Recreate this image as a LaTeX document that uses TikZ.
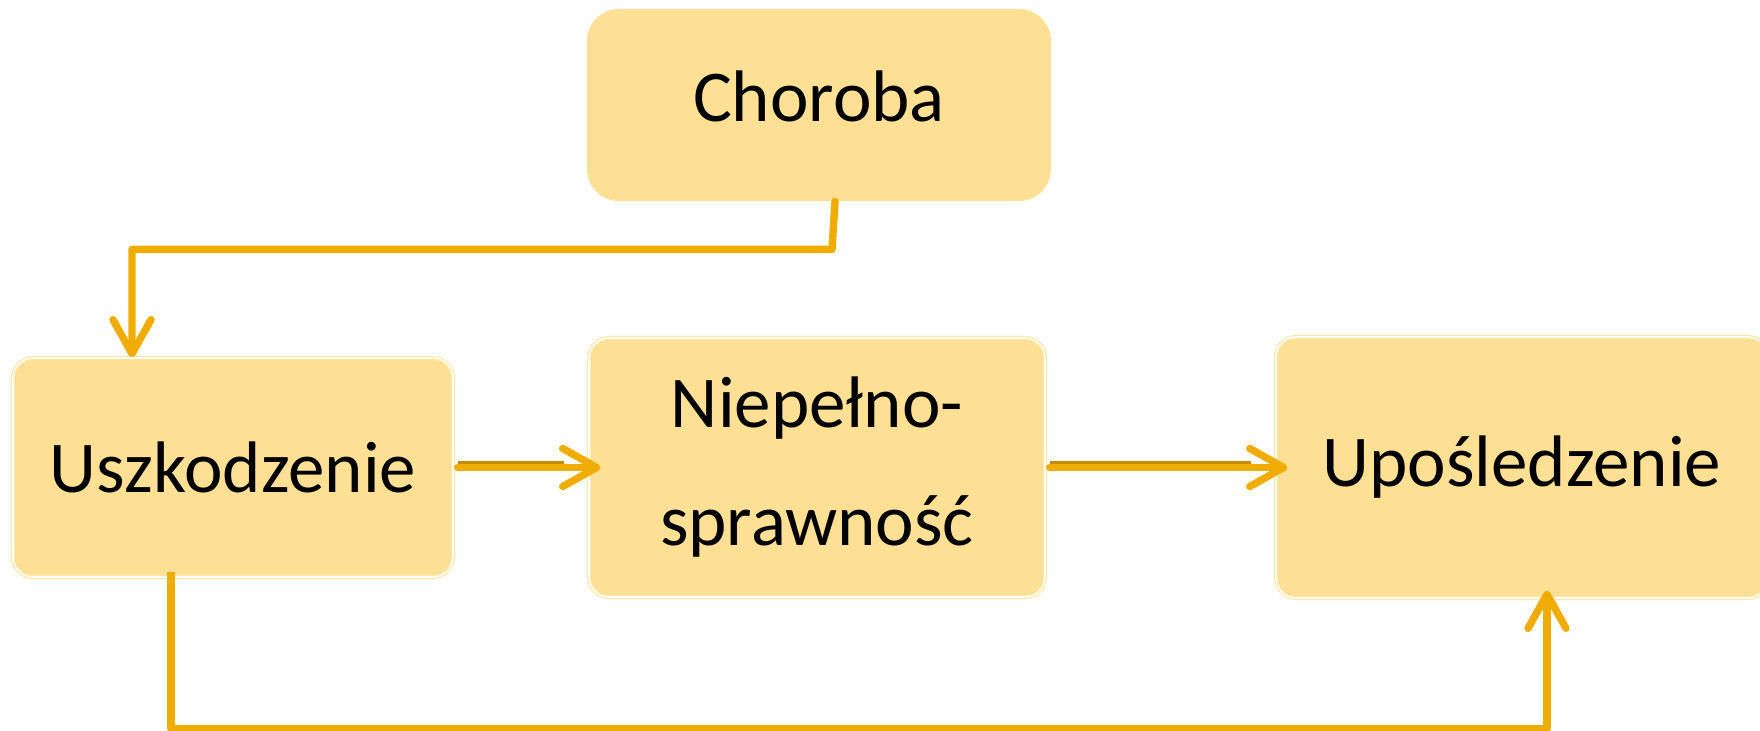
\documentclass[tikz,border=0pt]{standalone}
\usepackage{fontspec}
\setmainfont{Carlito}
\usepackage{tikz}
\usetikzlibrary{arrows.meta}

\definecolor{boxfill}{RGB}{253,224,148}
\definecolor{boxedge}{RGB}{254,230,165}
\definecolor{linkgold}{RGB}{240,173,0}
\definecolor{linkdark}{RGB}{196,140,0}

\begin{document}
\begin{tikzpicture}[x=0.5pt,y=-0.5pt,
    box/.style={fill=boxfill,rounded corners=10pt,inner sep=0pt,align=center,
      font=\fontsize{36.5}{59}\selectfont,
      draw=boxedge,line width=0.6pt,double=white,double distance=0.8pt},
    link/.style={draw=linkgold,line width=3.7pt,line cap=round,line join=round,
      -{Straight Barb[length=17pt,width=19pt,round]}},
    shade/.style={draw=linkdark,line width=2.4pt}]
  \useasboundingbox (0,0) rectangle (1760,731);

  \node [fill=boxfill,rounded corners=16pt,inner sep=0pt,
    minimum width=232pt,minimum height=96pt,text height=29pt,text depth=12pt,
    font=\fontsize{36.5}{44}\selectfont] (chor) at (819,105) {Choroba};
  \node [box,minimum width=220pt,minimum height=109.5pt] (usz) at (233,467.5) {Uszkodzenie};
  \node [box,minimum width=228pt,minimum height=129.5pt] (niep) at (817,467.5) {Niepełno-\\sprawność};
  \node [box,minimum width=246pt,minimum height=130.5pt] (upo) at (1522,467.5) {Upośledzenie};

  % choroba -> uszkodzenie
  \draw [link] ([xshift=8pt]chor.south) -- ++(-1.5pt,-24pt) -| ([xshift=-50.5pt]usz.north);
  % along the middle row
  \draw [shade] ([yshift=2.2pt,xshift=2pt]usz.east) -- ([yshift=2.2pt,xshift=-12pt]niep.west);
  \draw [link] ([xshift=2pt]usz.east) -- ([xshift=6pt]niep.west);
  \draw [shade] ([yshift=2.2pt,xshift=2pt]niep.east) -- ([yshift=2.2pt,xshift=-12pt]upo.west);
  \draw [link] ([xshift=2pt]niep.east) -- ([xshift=6pt]upo.west);
  % uszkodzenie -> uposledzenie
  \draw [link,line cap=butt] ([xshift=-31pt,yshift=3pt]usz.south) -- ++(0,-78.5pt) -| ([xshift=12.5pt,yshift=4pt]upo.south);
\end{tikzpicture}
\end{document}
